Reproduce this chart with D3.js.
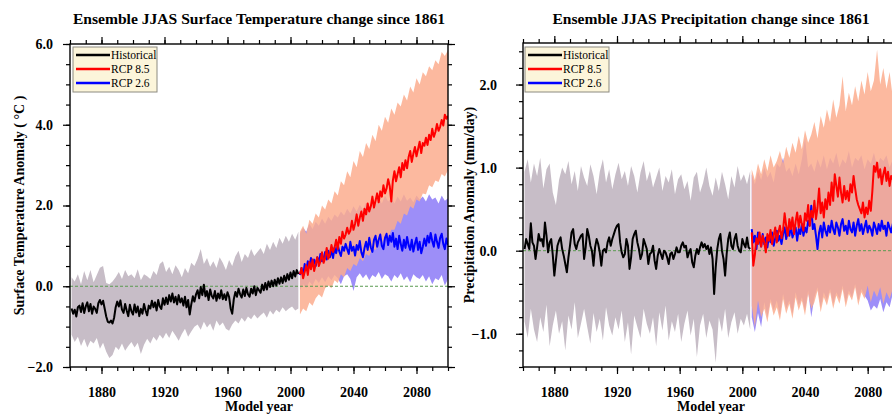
<!DOCTYPE html>
<html>
<head>
<meta charset="utf-8">
<script src="https://cdn.jsdelivr.net/npm/d3@7"></script>
<style>
body { margin: 0; background: #fff; }
svg { display: block; font-family: "Liberation Serif", "Times New Roman", serif; }
</style>
</head>
<body>
<div id="main"></div>
<script>
// years (categories)
const histYears = d3.range(1861, 2006)
const histBandYears = d3.range(1861, 2006, 2)
const futYears = d3.range(2006, 2101)
const futBandYears = d3.range(2006, 2101, 2)
const xMajor = [1880, 1920, 1960, 2000, 2040, 2080]

// ---- surface temperature (°C) ----
const tempHist = [
  -0.55,-0.68,-0.58,-0.75,-0.52,-0.48,-0.64,-0.42,-0.66,-0.50,
  -0.40,-0.62,-0.44,-0.68,-0.50,-0.56,-0.66,-0.42,-0.34,-0.45,
  -0.36,-0.55,-0.75,-0.88,-0.90,-0.85,-0.92,-0.78,-0.52,-0.38,
  -0.50,-0.35,-0.58,-0.66,-0.44,-0.60,-0.74,-0.46,-0.62,-0.70,
  -0.45,-0.65,-0.50,-0.74,-0.56,-0.68,-0.44,-0.60,-0.72,-0.48,
  -0.55,-0.36,-0.52,-0.40,-0.60,-0.34,-0.50,-0.56,-0.30,-0.46,
  -0.28,-0.44,-0.22,-0.38,-0.18,-0.40,-0.26,-0.45,-0.22,-0.40,
  -0.30,-0.48,-0.26,-0.52,-0.34,-0.70,-0.45,-0.25,-0.38,-0.20,
  -0.10,-0.30,-0.02,-0.22,0.04,-0.25,-0.12,-0.34,-0.08,-0.24,
  -0.30,-0.12,-0.36,-0.18,-0.30,-0.10,-0.32,-0.20,-0.34,-0.15,
  -0.26,-0.55,-0.68,-0.32,-0.14,-0.26,-0.06,-0.20,-0.28,-0.08,
  -0.24,-0.04,-0.20,-0.26,-0.06,-0.18,0.00,-0.22,-0.04,-0.10,
  -0.16,0.04,-0.10,0.08,-0.08,0.12,-0.02,0.14,0.00,0.16,
  0.02,0.20,0.06,0.22,0.08,0.26,0.12,0.30,0.16,0.34,
  0.20,0.38,0.24,0.40,0.30]
const tempHistHi = [
  0.22,0.12,0.30,0.05,0.38,0.15,0.40,0.10,0.28,0.46,
  0.50,0.08,0.05,0.12,0.22,0.35,0.18,0.40,0.25,0.30,
  0.20,0.42,0.15,0.30,0.25,0.18,0.38,0.28,0.55,0.62,
  0.35,0.48,0.30,0.52,0.40,0.22,0.45,0.32,0.58,0.50,
  0.68,0.92,0.55,0.70,0.48,0.62,0.45,0.72,0.58,0.40,
  0.65,0.50,0.74,0.88,0.60,0.80,0.70,0.92,0.75,0.85,
  0.95,0.80,1.05,0.90,1.10,0.95,1.20,1.05,1.25,1.10,
  1.30,1.15,1.35]
const tempHistLo = [
  -1.20,-1.38,-1.25,-1.48,-1.30,-1.52,-1.35,-1.42,-1.28,-1.55,
  -1.40,-1.62,-1.78,-1.70,-1.50,-1.58,-1.42,-1.60,-1.48,-1.38,
  -1.52,-1.40,-1.68,-1.45,-1.30,-1.42,-1.25,-1.35,-1.20,-1.30,
  -1.15,-1.28,-1.10,-1.22,-1.35,-1.18,-1.05,-1.25,-1.12,-1.00,
  -0.95,-1.08,-0.88,-1.02,-0.92,-1.10,-0.85,-0.98,-0.90,-1.05,
  -1.10,-0.95,-0.85,-0.92,-0.78,-0.88,-0.75,-0.82,-0.70,-0.80,
  -0.72,-0.65,-0.78,-0.60,-0.70,-0.58,-0.65,-0.52,-0.62,-0.55,
  -0.50,-0.60,-0.55]
const tempRcp85 = [
  0.30,0.45,0.20,0.35,0.52,0.28,0.60,0.42,0.66,0.38,
  0.55,0.72,0.50,0.62,0.84,0.58,0.70,0.95,0.68,0.80,
  1.02,0.85,0.96,1.15,0.92,1.22,1.05,1.35,1.18,1.28,
  1.45,1.30,1.38,1.62,1.40,1.55,1.78,1.50,1.70,1.85,
  1.62,1.92,1.78,2.05,1.85,1.98,2.22,1.95,2.12,2.30,
  2.08,2.35,2.22,2.50,2.30,2.42,2.65,2.48,2.10,2.62,
  2.85,2.60,2.78,2.95,2.70,3.05,2.88,3.12,2.92,3.20,
  3.35,3.08,3.28,3.45,3.22,3.40,3.58,3.30,3.55,3.48,
  3.68,3.50,3.75,3.62,3.90,3.70,3.82,4.02,3.85,3.95,
  4.12,3.98,4.25,4.15,4.22]
const tempRcp85Hi = [
  1.35,1.50,1.30,1.65,1.55,1.80,1.70,2.00,1.90,2.15,
  2.05,2.35,2.25,2.60,2.50,2.85,2.70,3.10,2.95,3.35,
  3.20,3.55,3.40,3.75,3.60,4.00,3.85,4.20,4.05,4.40,
  4.25,4.55,4.45,4.75,4.60,4.95,4.80,5.15,5.00,5.30,
  5.20,5.45,5.35,5.60,5.50,5.80,5.70,5.85]
const tempRcp85Lo = [
  -0.70,-0.55,-0.62,-0.40,-0.48,-0.30,-0.20,-0.28,-0.05,0.02,
  -0.05,0.15,0.08,0.30,0.22,0.45,0.38,0.55,0.50,0.70,
  0.62,0.80,0.75,0.95,0.90,1.10,1.05,1.25,1.18,1.40,
  1.40,1.62,1.55,1.80,1.75,1.98,1.92,2.15,2.10,2.30,
  2.28,2.50,2.45,2.62,2.58,2.78,2.72,2.88]
const tempRcp26 = [
  0.28,0.45,0.25,0.55,0.40,0.62,0.48,0.70,0.52,0.66,
  0.50,0.72,0.58,0.80,0.62,0.68,0.85,0.66,0.88,0.72,
  0.90,0.70,0.96,0.82,1.02,0.86,0.75,0.98,0.88,1.05,
  0.92,0.80,1.10,0.88,0.98,0.76,1.02,0.90,1.12,0.84,
  0.72,0.95,1.10,0.90,1.20,0.96,0.85,1.15,1.25,0.98,
  1.15,1.28,1.00,0.92,1.20,1.30,1.02,1.25,1.10,1.32,
  0.98,1.18,0.92,1.25,1.05,0.88,1.15,0.95,1.22,1.02,
  0.90,1.15,0.86,1.05,1.20,0.90,1.10,0.82,0.98,1.18,
  1.00,1.25,1.08,1.32,1.12,0.98,1.28,1.10,0.95,1.20,
  1.30,1.05,0.92,1.18,1.02]
const tempRcp26Hi = [
  1.30,1.45,1.35,1.55,1.42,1.60,1.50,1.68,1.55,1.72,
  1.62,1.78,1.70,1.85,1.75,1.92,1.80,1.98,1.85,2.02,
  1.90,2.08,1.95,2.15,2.00,2.20,2.05,2.25,2.10,2.18,
  2.05,2.22,2.10,2.28,2.12,2.20,2.08,2.25,2.15,2.22,
  2.10,2.28,2.15,2.20,2.05,2.25,2.12,2.18]
const tempRcp26Lo = [
  -0.10,0.05,-0.05,0.12,0.02,0.18,0.08,0.22,0.10,0.25,
  0.15,0.28,0.20,0.05,0.25,0.30,0.18,-0.12,0.22,0.32,
  0.20,0.30,0.15,0.28,0.22,0.35,0.18,0.30,0.25,0.12,
  0.28,0.20,0.32,0.15,0.25,0.10,0.30,0.22,0.18,0.28,
  0.12,0.25,0.05,0.20,0.15,0.28,0.02,0.18]

// ---- precipitation (mm/day) ----
const precHist = [
  0.02,0.14,0.08,0.02,0.33,0.10,0.06,-0.10,0.04,0.20,
  0.12,0.14,0.05,0.34,0.18,-0.02,0.10,0.14,-0.05,-0.30,
  -0.12,0.06,0.12,0.16,0.02,-0.06,-0.16,-0.26,-0.08,0.06,
  0.22,0.26,0.08,0.02,0.10,0.14,0.18,0.20,-0.10,0.04,
  0.26,0.18,0.06,0.00,-0.18,0.04,0.14,0.08,-0.02,-0.18,
  0.00,0.02,-0.02,0.10,0.16,0.06,0.14,0.20,0.26,0.30,
  0.32,0.10,-0.02,-0.08,-0.04,0.14,0.06,-0.22,-0.08,0.14,
  0.20,0.24,0.10,0.02,-0.10,-0.04,0.14,0.08,0.02,-0.16,
  -0.04,-0.02,0.06,-0.12,-0.22,-0.06,0.02,-0.04,-0.10,0.00,
  -0.02,-0.08,-0.16,-0.04,-0.02,-0.10,-0.04,0.04,-0.02,-0.02,
  0.06,0.10,0.04,0.06,-0.08,-0.02,0.02,-0.14,-0.20,-0.06,
  0.02,-0.04,0.04,0.10,0.04,0.08,0.02,0.06,-0.04,0.04,
  -0.10,-0.52,-0.20,0.02,0.14,0.20,0.00,-0.10,-0.30,-0.04,
  0.14,0.22,0.06,0.02,0.14,0.20,0.06,0.00,-0.02,0.14,
  0.08,0.04,0.16,0.04,0.02]
const precHistHi = [
  0.95,1.10,0.82,1.05,0.90,1.12,0.75,0.98,1.05,0.70,
  0.55,0.85,1.00,0.92,1.08,0.80,0.96,0.72,1.02,0.88,
  0.78,1.04,0.90,0.68,0.95,1.10,0.82,0.98,0.74,0.92,
  1.06,0.86,0.96,0.78,1.02,0.90,0.70,0.94,1.08,0.84,
  0.96,0.76,0.88,1.00,0.72,0.90,0.82,0.98,0.68,0.86,
  0.92,0.74,0.84,0.60,0.88,0.95,0.70,0.82,1.00,0.78,
  0.66,0.88,0.72,0.95,0.80,0.62,0.90,0.76,1.02,0.84,
  0.92,0.80,0.96]
const precHistLo = [
  -0.85,-1.05,-0.70,-0.95,-1.10,-0.80,-0.98,-0.65,-1.15,-0.90,
  -0.72,-1.00,-0.85,-1.20,-0.78,-0.95,-0.62,-1.05,-0.88,-0.70,
  -0.92,-1.12,-0.75,-0.98,-0.82,-1.08,-0.68,-0.90,-1.02,-0.80,
  -0.95,-0.72,-1.10,-0.86,-1.25,-0.78,-0.92,-1.05,-0.70,-0.88,
  -1.00,-0.80,-1.15,-0.74,-0.96,-0.66,-1.08,-0.85,-0.98,-0.76,
  -1.10,-0.88,-0.72,-1.02,-0.82,-1.28,-0.90,-0.76,-1.05,-0.84,
  -0.95,-1.35,-0.80,-0.98,-0.70,-1.05,-0.86,-0.74,-1.00,-0.82,
  -0.90,-0.76,-0.95]
const precRcp85 = [
  0.22,-0.18,-0.05,0.15,0.08,0.22,0.05,0.18,0.10,-0.02,
  0.20,0.12,0.25,0.08,0.18,0.28,0.10,0.22,0.30,0.15,
  0.25,0.45,0.30,0.18,0.38,0.26,0.40,0.20,0.35,0.46,
  0.28,0.42,0.32,0.24,0.45,0.36,0.55,0.30,0.48,0.40,
  0.60,0.38,0.52,0.75,0.45,0.58,0.40,0.62,0.50,0.70,
  0.55,0.82,0.60,0.92,0.78,0.65,0.88,0.70,0.58,0.78,
  0.62,0.72,0.60,0.80,0.70,0.90,0.75,0.62,0.55,0.50,
  0.45,0.58,0.40,0.52,0.44,0.60,0.48,0.72,1.02,0.95,
  1.06,0.88,0.98,0.80,0.92,1.00,0.84,0.95,0.78,0.90,
  0.86,0.98,0.82,0.92,0.88]
const precRcp85Hi = [
  0.98,0.85,1.05,0.92,1.10,0.96,1.15,1.00,1.08,1.20,
  1.05,1.25,1.12,1.30,1.18,1.38,1.22,1.45,1.30,1.40,
  1.55,1.35,1.62,1.48,1.70,1.55,1.82,1.60,1.75,2.10,
  1.68,1.90,1.75,1.98,1.80,2.05,1.88,2.15,1.92,2.05,
  2.42,2.00,2.20,1.95,2.15,1.85,2.05,1.90]
const precRcp85Lo = [
  -0.66,-0.92,-0.60,-0.80,-0.70,-0.86,-0.62,-0.78,-0.68,-0.84,
  -0.58,-0.76,-0.64,-0.82,-0.56,-0.72,-0.60,-0.78,-0.52,-0.70,
  -0.62,-0.48,-0.74,-0.56,-0.66,-0.50,-0.70,-0.54,-0.64,-0.46,
  -0.68,-0.52,-0.60,-0.44,-0.66,-0.50,-0.58,-0.42,-0.62,-0.48,
  -0.56,-0.44,-0.64,-0.50,-0.58,-0.46,-0.60,-0.52]
const precRcp26 = [
  0.26,0.10,0.18,0.02,0.22,0.12,0.05,0.20,0.08,0.16,
  0.04,0.18,0.10,0.22,0.06,0.15,0.24,0.12,0.18,0.08,
  0.20,0.28,0.14,0.24,0.18,0.30,0.16,0.22,0.28,0.12,
  0.26,0.20,0.32,0.18,0.28,0.22,0.36,0.30,0.54,0.26,
  0.32,0.18,0.02,0.22,0.30,0.16,0.34,0.24,0.18,0.30,
  0.22,0.36,0.26,0.20,0.34,0.28,0.18,0.32,0.38,0.24,
  0.30,0.20,0.36,0.26,0.22,0.34,0.18,0.30,0.38,0.24,
  0.32,0.20,0.28,0.36,0.22,0.30,0.26,0.18,0.34,0.28,
  0.20,0.32,0.24,0.36,0.26,0.30,0.18,0.34,0.28,0.22,
  0.32,0.26,0.36,0.24,0.30]
const precRcp26Hi = [
  0.92,0.80,0.96,0.85,1.00,0.88,0.95,0.82,1.05,1.00,
  1.12,0.95,1.00,0.90,1.05,0.92,1.10,1.36,1.00,1.05,
  0.95,1.10,1.00,1.15,0.98,1.12,1.05,1.18,1.00,1.10,
  1.05,1.20,1.00,1.12,1.08,1.15,0.98,1.10,1.05,1.18,
  1.02,1.12,1.08,1.15,1.00,1.10,1.05,1.12]
const precRcp26Lo = [
  -0.80,-0.98,-0.75,-0.92,-0.62,-0.80,-0.58,-0.72,-0.60,-0.78,
  -0.52,-0.70,-0.60,-0.76,-0.50,-0.66,-0.56,-0.72,-0.48,-0.80,
  -0.56,-0.44,-0.68,-0.50,-0.60,-0.46,-0.64,-0.50,-0.58,-0.42,
  -0.62,-0.48,-0.56,-0.40,-0.60,-0.46,-0.54,-0.60,-0.72,-0.66,
  -0.70,-0.58,-0.74,-0.62,-0.68,-0.52,-0.56,-0.48]

const legendItems = ['Historical', 'RCP 8.5', 'RCP 2.6']
const legendColors = ['#000000', '#ff0000', '#0000ff']

const w = 892, h = 415, bottom = 367

const svg = d3.select('#main')
  .append('svg')
  .attr('width', w)
  .attr('height', h)

function panel(p) {
  const x = d3.scaleLinear().domain([1860, 2100]).range(p.xr)
  const y = d3.scaleLinear().domain(p.yd).range([bottom, p.top])
  const g = svg.append('g')

  g.append('clipPath').attr('id', p.id)
    .append('rect')
    .attr('x', p.xr[0]).attr('y', p.top)
    .attr('width', p.xr[1] - p.xr[0]).attr('height', bottom - p.top)
  const plot = g.append('g').attr('clip-path', 'url(#' + p.id + ')')

  const band = (yrs, hi, lo) => d3.area()
    .x((d, i) => x(yrs[i]))
    .y0((d, i) => y(lo[i]))
    .y1(d => y(d))(hi)
  const line = (yrs, v) => d3.line()
    .x((d, i) => x(yrs[i]))
    .y(d => y(d))(v)

  plot.append('path').attr('d', band(histBandYears, p.histHi, p.histLo)).attr('fill', '#c7bdc7')
  plot.append('path').attr('d', band(futBandYears, p.r26Hi, p.r26Lo)).attr('fill', '#9d8ef8')
  plot.append('path').attr('d', band(futBandYears, p.r85Hi, p.r85Lo)).attr('fill', '#fbad8e').attr('fill-opacity', 0.85)

  plot.append('line')
    .attr('x1', p.xr[0]).attr('x2', p.xr[1])
    .attr('y1', y(0)).attr('y2', y(0))
    .attr('stroke', '#5a9a50').attr('stroke-width', 1)
    .attr('stroke-dasharray', '3,2')

  plot.append('path').attr('d', line(histYears, p.hist)).attr('fill', 'none').attr('stroke', '#000').attr('stroke-width', 2).attr('stroke-linejoin', 'round')
  plot.append('path').attr('d', line(futYears, p.r26)).attr('fill', 'none').attr('stroke', '#0000ff').attr('stroke-width', 2).attr('stroke-linejoin', 'round')
  plot.append('path').attr('d', line(futYears, p.r85)).attr('fill', 'none').attr('stroke', '#ff0000').attr('stroke-width', 2).attr('stroke-linejoin', 'round')

  // axes: minor + major ticks on all four sides, outward
  const xMinor = d3.range(1860, 2101, 10)
  const axes = [
    [d3.axisBottom(x).tickValues(xMinor).tickSize(4).tickFormat(''), 'translate(0,' + bottom + ')'],
    [d3.axisBottom(x).tickValues(xMajor).tickSize(7).tickPadding(13).tickFormat(d3.format('d')), 'translate(0,' + bottom + ')'],
    [d3.axisTop(x).tickValues(xMinor).tickSize(4).tickFormat(''), 'translate(0,' + p.top + ')'],
    [d3.axisTop(x).tickValues(xMajor).tickSize(7).tickFormat(''), 'translate(0,' + p.top + ')'],
    [d3.axisLeft(y).tickValues(p.yMinor).tickSize(4).tickFormat(''), 'translate(' + p.xr[0] + ',0)'],
    [d3.axisLeft(y).tickValues(p.yMajor).tickSize(7).tickPadding(p.yPad).tickFormat(d3.format('.1f')), 'translate(' + p.xr[0] + ',0)'],
    [d3.axisRight(y).tickValues(p.yMinor).tickSize(4).tickFormat(''), 'translate(' + p.xr[1] + ',0)'],
    [d3.axisRight(y).tickValues(p.yMajor).tickSize(7).tickFormat(''), 'translate(' + p.xr[1] + ',0)']
  ]
  axes.forEach(a => {
    const ax = g.append('g').attr('transform', a[1]).call(a[0])
    ax.attr('font-family', null).attr('font-size', null)
    ax.select('.domain').remove()
    ax.selectAll('line').attr('stroke', '#000').attr('stroke-width', 1.2)
    ax.selectAll('text').attr('fill', '#000').style('font-size', '14px').style('font-weight', 'bold')
  })

  g.append('rect')
    .attr('x', p.xr[0]).attr('y', p.top)
    .attr('width', p.xr[1] - p.xr[0]).attr('height', bottom - p.top)
    .attr('fill', 'none').attr('stroke', '#000').attr('stroke-width', 1.4)

  const cx = (p.xr[0] + p.xr[1]) / 2
  g.append('text').text(p.title)
    .attr('x', cx).attr('y', 24).attr('text-anchor', 'middle')
    .style('font-size', '15.6px').style('font-weight', 'bold')
  g.append('text').text('Model year')
    .attr('x', cx).attr('y', 411).attr('text-anchor', 'middle')
    .style('font-size', '14px').style('font-weight', 'bold')
  g.append('text').text(p.ylabel)
    .attr('transform', 'translate(' + p.ylx + ',' + (bottom + p.top) / 2 + ') rotate(-90)')
    .attr('text-anchor', 'middle')
    .style('font-size', '14px').style('font-weight', 'bold')

  // legend
  const lg = g.append('g').attr('transform', 'translate(' + p.lgx + ',47)')
  lg.append('rect').attr('width', 84).attr('height', 45)
    .attr('fill', '#fcf5da').attr('stroke', '#8c8a80').attr('stroke-width', 1)
  legendItems.forEach((t, i) => {
    lg.append('line')
      .attr('x1', 3).attr('x2', 37)
      .attr('y1', 8 + i * 14).attr('y2', 8 + i * 14)
      .attr('stroke', legendColors[i]).attr('stroke-width', 2.5)
    lg.append('text').text(t)
      .attr('x', 38).attr('y', 12 + i * 14)
      .style('font-size', '11.5px')
  })
}

panel({
  id: 'clipT', xr: [70, 448], yd: [-2, 6], top: 44,
  yMajor: [-2, 0, 2, 4, 6], yMinor: d3.range(-2, 6.01, 0.5), yPad: 10,
  hist: tempHist, histHi: tempHistHi, histLo: tempHistLo,
  r85: tempRcp85, r85Hi: tempRcp85Hi, r85Lo: tempRcp85Lo,
  r26: tempRcp26, r26Hi: tempRcp26Hi, r26Lo: tempRcp26Lo,
  title: 'Ensemble JJAS Surface Temperature change since 1861',
  ylabel: 'Surface Temperature Anomaly ( °C )', ylx: 24, lgx: 73
})

panel({
  id: 'clipP', xr: [523, 899], yd: [-1.4, 2.5], top: 43,
  yMajor: [-1, 0, 1, 2], yMinor: d3.range(-1.4, 2.51, 0.2), yPad: 19,
  hist: precHist, histHi: precHistHi, histLo: precHistLo,
  r85: precRcp85, r85Hi: precRcp85Hi, r85Lo: precRcp85Lo,
  r26: precRcp26, r26Hi: precRcp26Hi, r26Lo: precRcp26Lo,
  title: 'Ensemble JJAS Precipitation change since 1861',
  ylabel: 'Precipitation Anomaly (mm/day)', ylx: 474, lgx: 525
})
</script>
</body>
</html>
